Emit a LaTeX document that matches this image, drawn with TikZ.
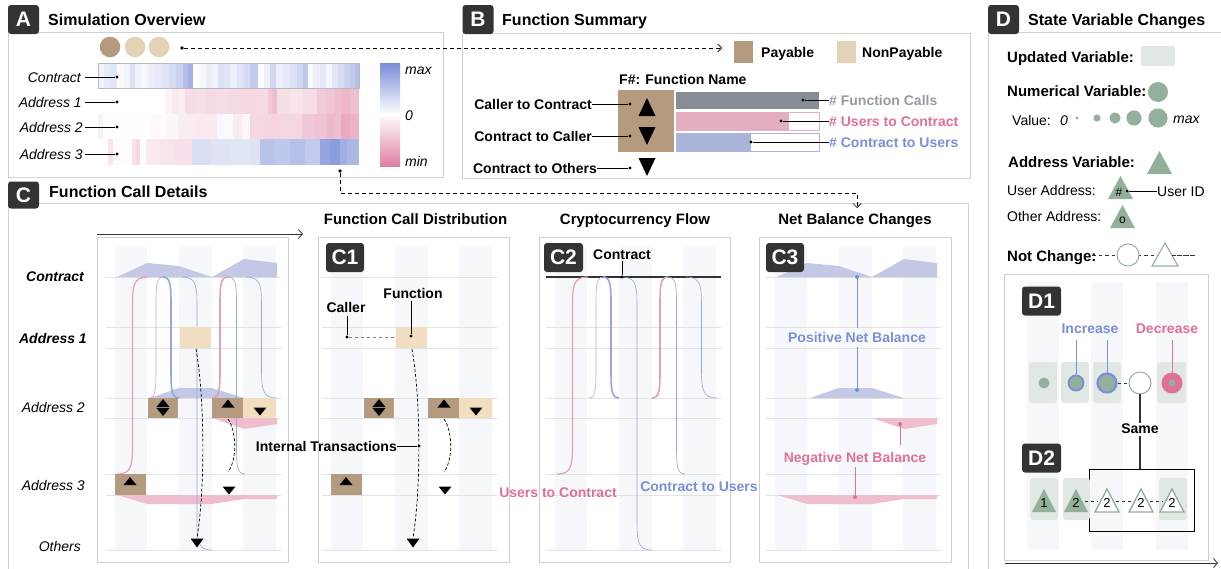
\documentclass[tikz,border=0pt]{standalone}
\usepackage{fontspec}
\setmainfont{Liberation Sans}
\usetikzlibrary{shadows,arrows.meta}
\definecolor{dk}{HTML}{333333}
\definecolor{payc}{RGB}{180,154,126}
\definecolor{npay}{RGB}{241,222,192}
\definecolor{npayL}{RGB}{228,210,182}
\definecolor{hb}{RGB}{120,140,215}
\definecolor{hp}{RGB}{222,125,162}
\definecolor{barg}{RGB}{134,141,148}
\definecolor{bargt}{RGB}{150,155,162}
\definecolor{barp}{RGB}{226,174,192}
\definecolor{barb}{RGB}{170,180,217}
\definecolor{txp}{RGB}{224,112,149}
\definecolor{txb}{RGB}{123,143,214}
\definecolor{sage}{RGB}{147,176,156}
\definecolor{sageL}{RGB}{225,232,227}
\definecolor{flp}{RGB}{226,160,182}
\definecolor{flb}{RGB}{150,165,218}
\definecolor{arb}{RGB}{195,201,228}
\definecolor{arp}{RGB}{238,190,207}
\definecolor{strp}{RGB}{246,247,250}
\definecolor{rowl}{RGB}{226,226,226}
\definecolor{bord}{RGB}{208,208,208}
\newcommand\fsz[1]{\fontsize{#1}{#1}\selectfont}
\newcommand\flw[5]{%
  \pgfmathsetmacro\fxm{(#2+#4)/2}%
  \pgfmathsetmacro\fsg{(#5>#3)?1:-1}%
  \pgfmathsetmacro\fv{min(32,abs(#5-#3)/2-2)}%
  \pgfmathsetmacro\fya{#3+\fsg*\fv}%
  \pgfmathsetmacro\fyb{#5-\fsg*\fv}%
  \pgfmathsetmacro\fca{#3+\fsg*\fv*0.3}%
  \pgfmathsetmacro\fcb{#5-\fsg*\fv*0.3}%
  \draw[#1] (#2,#3) .. controls (\fxm,#3) and (\fxm,\fca) .. (\fxm,\fya) -- (\fxm,\fyb) .. controls (\fxm,\fcb) and (\fxm,#5) .. (#4,#5);}
\newcommand\tu[4]{\fill (#1-#3,#2+#4) -- (#1+#3,#2+#4) -- (#1,#2-#4) -- cycle;}
\newcommand\td[4]{\fill (#1-#3,#2-#4) -- (#1+#3,#2-#4) -- (#1,#2+#4) -- cycle;}
\newcommand\Cbase{%
  \fill[strp] (115,247) rectangle (147,550);
  \fill[strp] (179,247) rectangle (212,550);
  \fill[strp] (243,247) rectangle (276,550);
  \foreach \yy in {277,327,348,398,418,474,495,550} \draw[rowl, line width=0.8pt] (106,\yy) -- (281,\yy);}
\newcommand\Careas{%
  \fill[arb] (117,277) -- (147,263) -- (179,266) -- (212,277) -- cycle;
  \fill[arb] (212,277) -- (244,259) -- (277,263) -- (277,277) -- cycle;
  \fill[arb] (150,398) -- (179,388) -- (212,388) -- (244,398) -- cycle;
  \fill[arp] (212,418) -- (244,429) -- (277,424) -- (277,418) -- cycle;
  \fill[arp] (117,495) -- (147,504) -- (212,504) -- (244,499) -- (277,499) -- (277,495) -- cycle;}
\newcommand\Cflows{%
  \flw{flp,line width=1.2pt}{117}{474}{148}{277}
  \flw{flp,line width=0.6pt}{149}{398}{163}{277}
  \flw{flb,line width=1.6pt}{163}{277}{179}{398}
  \flw{flb,line width=0.6pt}{182}{277}{212}{550}
  \flw{flp,line width=1.6pt}{212}{398}{228}{277}
  \flw{flb,line width=0.6pt}{228}{277}{245}{474}
  \flw{flb,line width=0.6pt}{246}{277}{277}{398}}
\newcommand\Cboxes{%
  \fill[npay] (180,327) rectangle (211,348);
  \fill[payc] (148,398) rectangle (178,418);
  \fill[payc] (212,398) rectangle (243,418);
  \fill[npay] (243,398) rectangle (276,418);
  \fill[payc] (115,474) rectangle (146,495);
  \tu{163}{403}{6.5}{4}
  \td{163}{412}{6.5}{4}
  \tu{228}{403.5}{6.5}{4}
  \td{260}{411.5}{6.5}{4}
  \tu{130}{481}{6.5}{4}
  \td{229}{490.5}{6.5}{4}
  \td{197}{543}{6.5}{4.5}
  \draw[densely dashed, line width=0.7pt] (196,349) .. controls (205,400) and (205,490) .. (197,538);
  \draw[densely dashed, line width=0.7pt] (228,419) .. controls (237,432) and (237,460) .. (228,472);}
\begin{document}
\begin{tikzpicture}[x=1pt,y=-1pt,
  lab/.style={fill=dk, rounded corners=3pt, text=white, font=\fsz{21}\bfseries, inner sep=0pt, minimum width=31pt, minimum height=29pt},
  panel/.style={fill=white, draw=bord, line width=0.7pt, drop shadow={shadow xshift=0.8pt, shadow yshift=-1.3pt, opacity=0.3, fill=gray}},
  tx/.style={inner sep=0pt, text height=10pt, text depth=0pt},
  t14/.style={tx, font=\fsz{14}},
  t14b/.style={tx, font=\fsz{14}\bfseries},
  t14i/.style={tx, font=\fsz{14}\itshape},
  t14bi/.style={tx, font=\fsz{14}\bfseries\itshape},
  t15b/.style={tx, font=\fsz{15}\bfseries, text height=10.8pt},
  t16b/.style={tx, font=\fsz{16}\bfseries, text height=11.5pt},
  dot/.style={circle, fill=black, inner sep=0pt, minimum size=3.6pt},
  conn/.style={line width=0.7pt, dash pattern=on 4pt off 3pt, -{Straight Barb[length=4pt,width=8pt]}}
]
\useasboundingbox[fill=white] (0,0) rectangle (1221,568);

% ================= Panel A
\draw[panel] (8,32) rectangle (443,177);
\node[lab] (labA) at (23.5,19.5) {A};
\node[t16b, anchor=west] (titA) at (48,20) {Simulation Overview};
\fill[payc] (110,47) circle (10.3);
\fill[npayL] (135,47) circle (10.3);
\fill[npayL] (159,47) circle (10.3);
% heatmap
\foreach \a/\b/\c/\p in {98/104/hb/10,104/110/hb/18,110/117/hb/22,117/124/hb/4,124/130/hb/8,130/135/hb/25,135/141/hb/12,141/148/hb/6,148/155/hb/15,155/162/hb/20,162/169/hb/24,169/176/hb/30,176/183/hb/38,183/188/hb/55,188/193/hb/68,193/200/hb/0,200/206/hb/6,206/212/hb/15,212/218/hb/10,218/224/hb/28,224/230/hb/22,230/237/hb/14,237/244/hb/24,244/250/hb/32,250/258/hb/45,258/264/hb/2,264/270/hb/12,270/276/hb/35,276/283/hb/14,283/290/hb/20,290/297/hb/26,297/303/hb/35,303/308/hb/48,308/313/hb/4,313/320/hb/12,320/326/hb/20,326/332/hb/8,332/338/hb/22,338/344/hb/30,344/350/hb/40,350/355/hb/46,355/359/hb/55}
  \fill[\c!\p!white] (\a,63) rectangle (\b+0.3,88);
\foreach \a/\b/\c/\p in {98/165/hp/0,165/172/hp/10,172/178/hp/16,178/185/hp/14,185/195/hp/27,195/205/hp/25,205/215/hp/29,215/227/hp/27,227/240/hp/29,240/255/hp/31,255/268/hp/29,268/272/hp/42,272/277/hp/50,277/290/hp/25,290/303/hp/21,303/317/hp/27,317/325/hp/40,325/335/hp/44,335/342/hp/52,342/350/hp/56,350/359/hp/50}
  \fill[\c!\p!white] (\a,88) rectangle (\b+0.3,114.3);
\foreach \a/\b/\c/\p in {98/103/hp/12,103/150/hp/1,150/165/hp/4,165/178/hp/7,178/195/hp/14,195/217/hp/16,217/224/hb/6,224/233/hb/3,233/242/hp/14,242/250/hp/7,250/265/hp/31,265/280/hp/33,280/302/hp/31,302/315/hp/42,315/327/hp/46,327/335/hp/54,335/341/hp/49,341/350/hp/66,350/359/hp/59}
  \fill[\c!\p!white] (\a,114) rectangle (\b+0.3,139.3);
\foreach \a/\b/\c/\p in {98/108/hp/0,108/113/hp/20,113/120/hp/4,120/132/hp/2,132/136/hp/22,136/140/hp/30,140/146/hp/2,146/160/hp/16,160/175/hp/20,175/192/hp/24,192/210/hb/28,210/230/hb/24,230/250/hb/22,250/260/hb/25,260/275/hb/52,275/290/hb/48,290/305/hb/55,305/320/hb/45,320/330/hb/78,330/340/hb/85,340/347/hb/70,347/359/hb/62}
  \fill[\c!\p!white] (\a,139) rectangle (\b+0.3,165);
\draw[gray!55, line width=0.9pt] (98,63) rectangle (359,88);
\node[t14i, anchor=east] (hlc) at (81,77) {Contract};
\node[t14i, anchor=east] (hl1) at (82,102) {Address 1};
\node[t14i, anchor=east] (hl2) at (83,127) {Address 2};
\node[t14i, anchor=east] (hl3) at (83,154) {Address 3};
\foreach \n/\y in {hc/77,h1/102,h2/127,h3/154} \node[dot, minimum size=3.4pt] (\n) at (117,\y) {};
\draw[line width=0.7pt] (hlc.east) ++(4,0) -- (hc);
\draw[line width=0.7pt] (hl1.east) ++(3,0) -- (h1);
\draw[line width=0.7pt] (hl2.east) ++(2,0) -- (h2);
\draw[line width=0.7pt] (hl3.east) ++(2,0) -- (h3);
% legend gradient
\shade[top color=hb, bottom color=white] (380,63) rectangle (400,114.5);
\shade[top color=white, bottom color=hp] (380,114) rectangle (400,166);
\node[t14i, anchor=west] (gmax) at (405,69) {max};
\node[t14i, anchor=west] (gzero) at (405,115) {0};
\node[t14i, anchor=west] (gmin) at (405,161) {min};
\node[dot] (aDot1) at (182,48) {};
\node[dot] (aDot2) at (340,171) {};

% ================= Panel B
\draw[panel] (462,33) rectangle (970,178);
\node[lab] (labB) at (478,19.5) {B};
\node[t16b, anchor=west] (titB) at (502,20) {Function Summary};
\fill[payc] (734,41) rectangle (753,63);
\node[t14b, anchor=west] (payT) at (761,52) {Payable};
\fill[npayL] (837,41) rectangle (856,63);
\node[t14b, anchor=west] (npayT) at (862,52) {NonPayable};
\node[t14b, anchor=west] (fname) at (619,79) {F\#: Function Name};
\fill[payc] (618,90) rectangle (674,152);
\tu{647}{107}{8.5}{9}
\td{647}{136}{8.5}{9}
\td{647}{167}{8.5}{9}
\node[t14b, anchor=east] (bl1) at (592,104) {Caller to Contract};
\node[t14b, anchor=east] (bl2) at (592,136) {Contract to Caller};
\node[t14b, anchor=east] (bl3) at (597,168) {Contract to Others};
\node[dot, minimum size=3.2pt] (bd1) at (630,104) {};
\node[dot, minimum size=3.2pt] (bd2) at (630,136) {};
\node[dot, minimum size=3.2pt] (bd3) at (630,168) {};
\draw[line width=0.7pt] (bl1.east) -- (bd1);
\draw[line width=0.7pt] (bl2.east) -- (bd2);
\draw[line width=0.7pt] (bl3.east) -- (bd3);
\fill[barg] (676,92) rectangle (819,109);
\fill[barp] (676,112) rectangle (789,130);
\draw[barp, line width=0.8pt] (676,112) rectangle (819,130);
\fill[barb] (676,133) rectangle (751,151);
\draw[barb, line width=0.8pt] (676,133) rectangle (819,151);
\node[t14b, anchor=west, text=bargt] (bt1) at (829,100) {\# Function Calls};
\node[t14b, anchor=west, text=txp] (bt2) at (829,121) {\# Users to Contract};
\node[t14b, anchor=west, text=txb] (bt3) at (829,142) {\# Contract to Users};
\node[dot, minimum size=3.2pt] (bb1) at (803,100) {};
\node[dot, minimum size=3.2pt] (bb2) at (781,121) {};
\node[dot, minimum size=3.2pt] (bb3) at (751,142) {};
\draw[line width=0.7pt] (bb1) -- (bt1.west);
\draw[line width=0.7pt] (bb2) -- (bt2.west);
\draw[line width=0.7pt] (bb3) -- (bt3.west);
\coordinate (bArr) at (722,48);

% ================= Panel D
\draw[fill=white, draw=bord, line width=0.7pt] (988,32) rectangle (1240,600);
\node[lab] (labD) at (1003.5,19.5) {D};
\node[t16b, anchor=west] (titD) at (1028,20) {State Variable Changes};
\node[t15b, anchor=west] (dUpd) at (1007,57) {Updated Variable:};
\fill[sageL, rounded corners=2pt] (1141,46) rectangle (1175,66);
\node[t15b, anchor=west] (dNum) at (1007,91) {Numerical Variable:};
\fill[sage] (1158,92) circle (10);
\node[t14, anchor=west] (dVal) at (1012,120) {Value:};
\node[t14i, anchor=west] (dZero) at (1060,120) {0};
\fill[sage] (1077,118) circle (1.6);
\fill[sage] (1097,118) circle (3.6);
\fill[sage] (1115,118) circle (5.6);
\fill[sage] (1134,118) circle (7.6);
\fill[sage] (1158,118) circle (9.6);
\node[t14i, anchor=west] (dMax) at (1173,118) {max};
\node[t15b, anchor=west] (dAddr) at (1008,162) {Address Variable:};
\fill[sage] (1147,174) -- (1172,174) -- (1159.5,151) -- cycle;
\node[t14, anchor=west] (dUser) at (1007,190) {User Address:};
\fill[sage] (1108,199) -- (1133,199) -- (1120.5,176) -- cycle;
\node[font=\fsz{12}, inner sep=0pt] (dHash) at (1119,192) {\#};
\node[dot, minimum size=3pt] (dHd) at (1127,191) {};
\node[t14, anchor=west] (dUid) at (1157,191) {User ID};
\draw[line width=0.7pt] (dHd) -- (dUid.west);
\node[t14, anchor=west] (dOth) at (1007,216) {Other Address:};
\fill[sage] (1110,228) -- (1135,228) -- (1122.5,205) -- cycle;
\node[font=\fsz{12}, inner sep=0pt] (dO) at (1122.5,220) {o};
\node[t15b, anchor=west] (dNot) at (1007,256) {Not Change:};
\draw[dk, line width=0.8pt, dash pattern=on 3.5pt off 3pt] (1092,255) -- (1195,255);
\draw[sage, fill=white, line width=1pt] (1128,255) circle (11);
\draw[sage, fill=white, line width=1.1pt] (1152,266) -- (1178,266) -- (1165,243) -- cycle;
\draw[dk, line width=0.8pt, dash pattern=on 3.5pt off 3pt] (1172,255) -- (1195,255);
% D inner
\draw[panel] (1004,274) rectangle (1208,560);
\draw[dk, line width=0.8pt, -{Straight Barb[length=4pt,width=9pt]}] (1005,563) -- (1218,563);
\fill[strp] (1027,282) rectangle (1059,550);
\fill[strp] (1091,282) rectangle (1123,550);
\fill[strp] (1156,282) rectangle (1188,550);
\node[lab, minimum width=39pt, minimum height=29pt] (labD1) at (1041.5,301) {D1};
\node[lab, minimum width=39pt, minimum height=29pt] (labD2) at (1041.5,458) {D2};
\node[t14b, text=txb] (dInc) at (1090,328) {Increase};
\node[t14b, text=txp] (dDec) at (1167,328) {Decrease};
\foreach \a/\b in {1029/1057,1061/1089,1093/1121,1157/1186} \fill[sageL, rounded corners=3pt] (\a,362) rectangle (\b,403);
\fill[sage] (1044,383) circle (5.5);
\draw[txb, fill=sage, line width=1.8pt] (1076,383) circle (7.5);
\draw[txb, fill=sage, line width=2.2pt] (1107,383) circle (9.5);
\draw[sage, fill=white, line width=1pt] (1140,383) circle (11);
\fill[txp] (1172,383) circle (10.5);
\fill[sage] (1172,383) circle (3.5);
\draw[txb, line width=1pt] (1076,340) -- (1076,374.5);
\draw[txb, line width=1pt] (1107,340) -- (1107,372.5);
\draw[txp, line width=1pt] (1172,340) -- (1172,372.5);
\draw[dk, line width=0.8pt, dash pattern=on 3pt off 3pt] (1118,383) -- (1129,383);
\node[t14b] (dSame) at (1140,428) {Same};
\draw[dk, line width=1.2pt] (1140,394) -- (dSame.north);
\draw[dk, line width=1.2pt] (dSame.south) ++(0,3) -- (1140,469);
\draw[black, line width=0.8pt] (1089,469) rectangle (1194,531);
\foreach \a/\b in {1030/1058,1063/1090,1159/1187} \fill[sageL, rounded corners=3pt] (\a,478) rectangle (\b,520);
\fill[sage] (1032,512) -- (1056,512) -- (1044,489) -- cycle;
\fill[sage] (1064,512) -- (1088,512) -- (1076,489) -- cycle;
\foreach \xx in {1107,1141,1172} \draw[sage, fill=white, line width=1.4pt] (\xx-12,512) -- (\xx+12,512) -- (\xx,489) -- cycle;
\foreach \xx/\nn in {1044/1,1076/2,1107/2,1141/2,1172/2} \node[font=\fsz{13}, inner sep=0pt] (dn\xx) at (\xx,503) {\nn};
\draw[dk, line width=0.8pt, dash pattern=on 3pt off 3pt] (1085,501) -- (1098,501);
\draw[dk, line width=0.8pt, dash pattern=on 3pt off 3pt] (1116,501) -- (1132,501);
\draw[dk, line width=0.8pt, dash pattern=on 3pt off 3pt] (1150,501) -- (1163,501);

% ================= Panel C
\draw[fill=white, draw=bord, line width=0.7pt] (8,203) rectangle (968,600);
\node[lab, minimum height=27pt] (labC) at (23.5,195) {C};
\node[t16b, anchor=west] (titC) at (49,192) {Function Call Details};
\draw[dk, line width=0.8pt, -{Straight Barb[length=4pt,width=9pt]}] (97,234) -- (303,234);
\draw[panel] (97,237) rectangle (288,562);
\draw[panel] (318,237) rectangle (509,562);
\draw[panel] (539,237) rectangle (730,562);
\draw[panel] (759,237) rectangle (951,562);
\node[t15b] (tC1) at (415.5,219) {Function Call Distribution};
\node[t15b] (tC2) at (635,219) {Cryptocurrency Flow};
\node[t15b] (tC3) at (855,219) {Net Balance Changes};
% left labels
\node[t14bi, anchor=east] (rC) at (84,276) {Contract};
\node[t14bi, anchor=east] (r1) at (87,338) {Address 1};
\node[t14i, anchor=east] (r2) at (85,407) {Address 2};
\node[t14i, anchor=east] (r3) at (85,485) {Address 3};
\node[t14i, anchor=east] (rO) at (81,546) {Others};
% main
\Cbase
\Careas
\Cflows
\Cboxes
% C1
\begin{scope}[shift={(216,0)}]
\Cbase
\Cboxes
\end{scope}
\node[lab, minimum width=38pt] (labC1) at (345,257.5) {C1};
\node[t14b] (c1f) at (413,293) {Function};
\node[t14b] (c1c) at (346,307) {Caller};
\node[dot, minimum size=3.2pt] (c1fd) at (411,336) {};
\node[dot, minimum size=3.2pt] (c1cd) at (347,337) {};
\draw[line width=0.8pt] (411,301) -- (c1fd);
\draw[line width=0.8pt] (347,316) -- (c1cd);
\draw[gray, line width=0.8pt, dash pattern=on 3.5pt off 2.5pt] (c1cd) -- (396,337);
\node[t14b, anchor=east] (c1it) at (397,446) {Internal Transactions};
\node[dot, minimum size=3.2pt] (c1id) at (419,446) {};
\draw[line width=0.8pt] (c1it.east) -- (c1id);
% C2
\begin{scope}[shift={(440,0)}]
\Cbase
\draw[dk, line width=1.1pt] (106,277) -- (281,277);
\Cflows
\end{scope}
\node[lab, minimum width=39pt] (labC2) at (563.5,257.5) {C2};
\node[t14b] (c2c) at (622,254) {Contract};
\node[dot, minimum size=3.4pt] (c2d) at (622,277) {};
\draw[line width=0.9pt] (c2c.south) ++(0,2) -- (c2d);
\node[t14b, text=txp] (c2u) at (558,492) {Users to Contract};
\node[t14b, text=txb] (c2o) at (699,486) {Contract to Users};
% C3
\begin{scope}[shift={(660,0)}]
\Cbase
\Careas
\end{scope}
\node[lab, minimum width=38pt] (labC3) at (785,257.5) {C3};
\node[t14b, text=txb] (c3p) at (857,337) {Positive Net Balance};
\node[circle, fill=txb, inner sep=0pt, minimum size=4pt] (c3pd1) at (857,277) {};
\node[circle, fill=txb, inner sep=0pt, minimum size=4pt] (c3pd2) at (857,390) {};
\draw[txb, line width=1pt] (c3pd1) -- (857,328);
\draw[txb, line width=1pt] (857,347) -- (c3pd2);
\node[t14b, text=txp] (c3n) at (855,457) {Negative Net Balance};
\node[circle, fill=txp, inner sep=0pt, minimum size=4pt] (c3nd1) at (900,424) {};
\node[circle, fill=txp, inner sep=0pt, minimum size=4pt] (c3nd2) at (855,497) {};
\draw[txp, line width=1pt] (c3nd1) -- (900,445);
\draw[txp, line width=1pt] (855,467) -- (c3nd2);
\coordinate (c3Arr) at (857,208);

% ================= connectors
\draw[conn] (aDot1) -- (bArr);
\draw[conn] (aDot2) |- (857,193) -- (c3Arr);
\end{tikzpicture}
\end{document}
